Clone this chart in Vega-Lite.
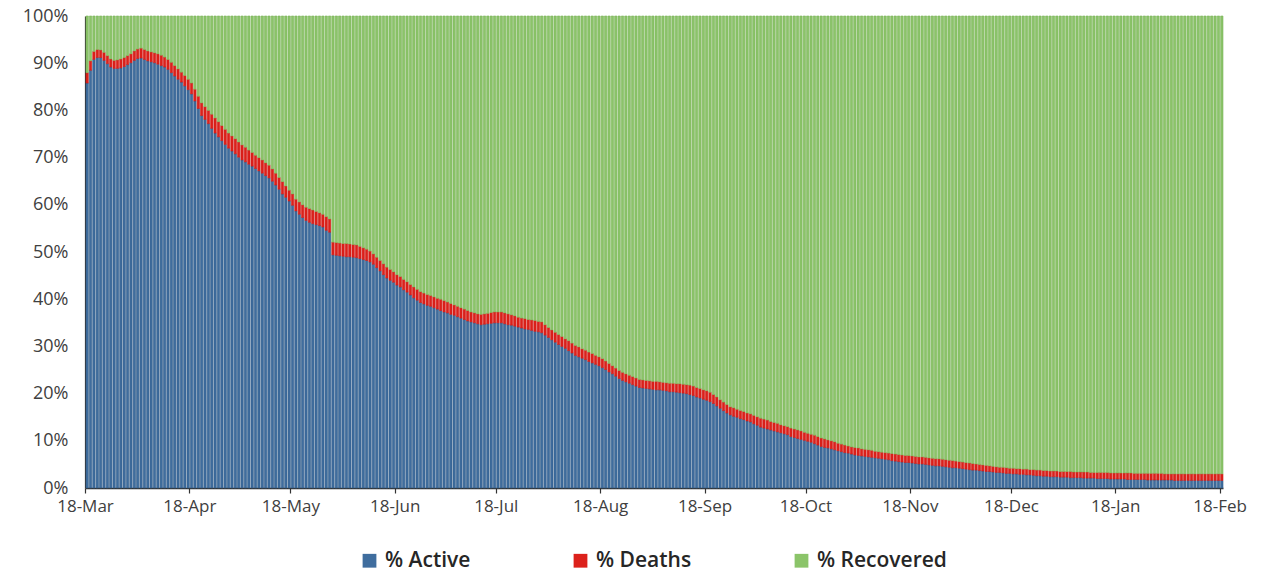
{
"$schema":"https://vega.github.io/schema/vega-lite/v6.json",
"width":1138,"height":472,
"autosize":{"type":"none"},
"padding":{"left":85,"top":16,"right":38,"bottom":85},
"background":"white",
"config":{"view":{"stroke":null}},
"data":{"values":[
{"t":"2020-03-18","a":85.8,"d":2.2,"r":12.0},
{"t":"2020-03-19","a":88.5,"d":2.0,"r":9.5},
{"t":"2020-03-20","a":90.8,"d":1.7,"r":7.5},
{"t":"2020-03-21","a":91.2,"d":1.7,"r":7.1},
{"t":"2020-03-22","a":91.2,"d":1.6,"r":7.2},
{"t":"2020-03-23","a":90.6,"d":1.7,"r":7.7},
{"t":"2020-03-24","a":89.9,"d":1.7,"r":8.4},
{"t":"2020-03-25","a":89.2,"d":1.7,"r":9.1},
{"t":"2020-03-26","a":88.9,"d":1.7,"r":9.4},
{"t":"2020-03-27","a":88.9,"d":1.8,"r":9.3},
{"t":"2020-03-28","a":89.0,"d":1.9,"r":9.1},
{"t":"2020-03-29","a":89.3,"d":1.9,"r":8.8},
{"t":"2020-03-30","a":89.7,"d":1.9,"r":8.4},
{"t":"2020-03-31","a":90.1,"d":1.9,"r":8.0},
{"t":"2020-04-01","a":90.6,"d":2.0,"r":7.4},
{"t":"2020-04-02","a":91.0,"d":2.0,"r":7.0},
{"t":"2020-04-03","a":91.1,"d":2.1,"r":6.8},
{"t":"2020-04-04","a":90.8,"d":2.1,"r":7.1},
{"t":"2020-04-05","a":90.5,"d":2.1,"r":7.4},
{"t":"2020-04-06","a":90.3,"d":2.1,"r":7.6},
{"t":"2020-04-07","a":90.1,"d":2.1,"r":7.8},
{"t":"2020-04-08","a":89.8,"d":2.2,"r":8.0},
{"t":"2020-04-09","a":89.5,"d":2.2,"r":8.3},
{"t":"2020-04-10","a":89.2,"d":2.1,"r":8.7},
{"t":"2020-04-11","a":88.7,"d":2.1,"r":9.2},
{"t":"2020-04-12","a":88.0,"d":2.2,"r":9.8},
{"t":"2020-04-13","a":87.3,"d":2.2,"r":10.5},
{"t":"2020-04-14","a":86.6,"d":2.2,"r":11.2},
{"t":"2020-04-15","a":86.0,"d":2.1,"r":11.9},
{"t":"2020-04-16","a":85.2,"d":2.2,"r":12.6},
{"t":"2020-04-17","a":84.4,"d":2.2,"r":13.4},
{"t":"2020-04-18","a":83.5,"d":2.3,"r":14.2},
{"t":"2020-04-19","a":82.0,"d":2.5,"r":15.5},
{"t":"2020-04-20","a":80.4,"d":2.6,"r":17.0},
{"t":"2020-04-21","a":78.9,"d":2.7,"r":18.4},
{"t":"2020-04-22","a":78.1,"d":2.7,"r":19.2},
{"t":"2020-04-23","a":77.2,"d":2.8,"r":20.0},
{"t":"2020-04-24","a":76.2,"d":3.0,"r":20.8},
{"t":"2020-04-25","a":75.2,"d":3.2,"r":21.6},
{"t":"2020-04-26","a":74.4,"d":3.2,"r":22.4},
{"t":"2020-04-27","a":73.6,"d":3.2,"r":23.2},
{"t":"2020-04-28","a":72.8,"d":3.2,"r":24.0},
{"t":"2020-04-29","a":72.0,"d":3.2,"r":24.8},
{"t":"2020-04-30","a":71.4,"d":3.2,"r":25.4},
{"t":"2020-05-01","a":70.8,"d":3.2,"r":26.0},
{"t":"2020-05-02","a":70.1,"d":3.2,"r":26.7},
{"t":"2020-05-03","a":69.5,"d":3.2,"r":27.3},
{"t":"2020-05-04","a":69.1,"d":3.1,"r":27.8},
{"t":"2020-05-05","a":68.6,"d":3.0,"r":28.4},
{"t":"2020-05-06","a":68.2,"d":2.9,"r":28.9},
{"t":"2020-05-07","a":67.7,"d":2.8,"r":29.5},
{"t":"2020-05-08","a":67.2,"d":2.8,"r":30.0},
{"t":"2020-05-09","a":66.7,"d":2.8,"r":30.5},
{"t":"2020-05-10","a":66.2,"d":2.7,"r":31.1},
{"t":"2020-05-11","a":65.7,"d":2.7,"r":31.6},
{"t":"2020-05-12","a":65.0,"d":2.6,"r":32.4},
{"t":"2020-05-13","a":64.2,"d":2.5,"r":33.3},
{"t":"2020-05-14","a":63.3,"d":2.5,"r":34.2},
{"t":"2020-05-15","a":62.3,"d":2.6,"r":35.1},
{"t":"2020-05-16","a":61.6,"d":2.4,"r":36.0},
{"t":"2020-05-17","a":60.8,"d":2.3,"r":36.9},
{"t":"2020-05-18","a":59.9,"d":2.4,"r":37.7},
{"t":"2020-05-19","a":58.7,"d":2.5,"r":38.8},
{"t":"2020-05-20","a":58.0,"d":2.6,"r":39.4},
{"t":"2020-05-21","a":57.3,"d":2.7,"r":40.0},
{"t":"2020-05-22","a":56.7,"d":2.8,"r":40.5},
{"t":"2020-05-23","a":56.3,"d":2.9,"r":40.8},
{"t":"2020-05-24","a":56.0,"d":2.9,"r":41.1},
{"t":"2020-05-25","a":55.8,"d":2.8,"r":41.4},
{"t":"2020-05-26","a":55.6,"d":2.7,"r":41.7},
{"t":"2020-05-27","a":55.3,"d":2.7,"r":42.0},
{"t":"2020-05-28","a":54.6,"d":2.9,"r":42.5},
{"t":"2020-05-29","a":54.2,"d":2.8,"r":43.0},
{"t":"2020-05-30","a":49.4,"d":2.7,"r":47.9},
{"t":"2020-05-31","a":49.3,"d":2.7,"r":48.0},
{"t":"2020-06-01","a":49.2,"d":2.7,"r":48.1},
{"t":"2020-06-02","a":49.1,"d":2.7,"r":48.2},
{"t":"2020-06-03","a":49.0,"d":2.8,"r":48.2},
{"t":"2020-06-04","a":49.0,"d":2.7,"r":48.3},
{"t":"2020-06-05","a":48.9,"d":2.7,"r":48.4},
{"t":"2020-06-06","a":48.8,"d":2.7,"r":48.5},
{"t":"2020-06-07","a":48.6,"d":2.6,"r":48.8},
{"t":"2020-06-08","a":48.4,"d":2.5,"r":49.1},
{"t":"2020-06-09","a":48.2,"d":2.4,"r":49.4},
{"t":"2020-06-10","a":47.9,"d":2.3,"r":49.8},
{"t":"2020-06-11","a":47.4,"d":2.2,"r":50.4},
{"t":"2020-06-12","a":46.7,"d":2.2,"r":51.1},
{"t":"2020-06-13","a":46.0,"d":2.2,"r":51.8},
{"t":"2020-06-14","a":45.2,"d":2.3,"r":52.5},
{"t":"2020-06-15","a":44.5,"d":2.3,"r":53.2},
{"t":"2020-06-16","a":44.0,"d":2.3,"r":53.7},
{"t":"2020-06-17","a":43.6,"d":2.2,"r":54.2},
{"t":"2020-06-18","a":43.0,"d":2.2,"r":54.8},
{"t":"2020-06-19","a":42.6,"d":2.2,"r":55.2},
{"t":"2020-06-20","a":42.0,"d":2.2,"r":55.8},
{"t":"2020-06-21","a":41.5,"d":2.2,"r":56.3},
{"t":"2020-06-22","a":40.9,"d":2.2,"r":56.9},
{"t":"2020-06-23","a":40.3,"d":2.3,"r":57.4},
{"t":"2020-06-24","a":39.8,"d":2.3,"r":57.9},
{"t":"2020-06-25","a":39.3,"d":2.3,"r":58.4},
{"t":"2020-06-26","a":39.0,"d":2.3,"r":58.7},
{"t":"2020-06-27","a":38.7,"d":2.3,"r":59.0},
{"t":"2020-06-28","a":38.5,"d":2.3,"r":59.2},
{"t":"2020-06-29","a":38.2,"d":2.3,"r":59.5},
{"t":"2020-06-30","a":37.9,"d":2.3,"r":59.8},
{"t":"2020-07-01","a":37.6,"d":2.4,"r":60.0},
{"t":"2020-07-02","a":37.3,"d":2.4,"r":60.3},
{"t":"2020-07-03","a":37.1,"d":2.3,"r":60.6},
{"t":"2020-07-04","a":36.8,"d":2.3,"r":60.9},
{"t":"2020-07-05","a":36.6,"d":2.2,"r":61.2},
{"t":"2020-07-06","a":36.3,"d":2.2,"r":61.5},
{"t":"2020-07-07","a":36.0,"d":2.2,"r":61.8},
{"t":"2020-07-08","a":35.7,"d":2.2,"r":62.1},
{"t":"2020-07-09","a":35.4,"d":2.2,"r":62.4},
{"t":"2020-07-10","a":35.2,"d":2.1,"r":62.7},
{"t":"2020-07-11","a":35.0,"d":2.1,"r":62.9},
{"t":"2020-07-12","a":34.8,"d":2.1,"r":63.1},
{"t":"2020-07-13","a":34.6,"d":2.2,"r":63.2},
{"t":"2020-07-14","a":34.7,"d":2.2,"r":63.1},
{"t":"2020-07-15","a":34.8,"d":2.2,"r":63.0},
{"t":"2020-07-16","a":34.9,"d":2.3,"r":62.8},
{"t":"2020-07-17","a":35.0,"d":2.3,"r":62.7},
{"t":"2020-07-18","a":35.0,"d":2.3,"r":62.7},
{"t":"2020-07-19","a":35.0,"d":2.3,"r":62.7},
{"t":"2020-07-20","a":34.8,"d":2.3,"r":62.9},
{"t":"2020-07-21","a":34.6,"d":2.3,"r":63.1},
{"t":"2020-07-22","a":34.5,"d":2.2,"r":63.3},
{"t":"2020-07-23","a":34.3,"d":2.2,"r":63.5},
{"t":"2020-07-24","a":34.1,"d":2.1,"r":63.8},
{"t":"2020-07-25","a":33.9,"d":2.1,"r":64.0},
{"t":"2020-07-26","a":33.7,"d":2.2,"r":64.1},
{"t":"2020-07-27","a":33.6,"d":2.1,"r":64.3},
{"t":"2020-07-28","a":33.4,"d":2.2,"r":64.4},
{"t":"2020-07-29","a":33.2,"d":2.3,"r":64.5},
{"t":"2020-07-30","a":33.1,"d":2.2,"r":64.7},
{"t":"2020-07-31","a":32.9,"d":2.3,"r":64.8},
{"t":"2020-08-01","a":32.4,"d":2.2,"r":65.4},
{"t":"2020-08-02","a":31.9,"d":2.1,"r":66.0},
{"t":"2020-08-03","a":31.4,"d":2.1,"r":66.5},
{"t":"2020-08-04","a":30.9,"d":2.1,"r":67.0},
{"t":"2020-08-05","a":30.4,"d":2.1,"r":67.5},
{"t":"2020-08-06","a":30.0,"d":2.1,"r":67.9},
{"t":"2020-08-07","a":29.6,"d":2.0,"r":68.4},
{"t":"2020-08-08","a":29.1,"d":2.1,"r":68.8},
{"t":"2020-08-09","a":28.6,"d":2.1,"r":69.3},
{"t":"2020-08-10","a":28.1,"d":2.1,"r":69.8},
{"t":"2020-08-11","a":27.8,"d":2.1,"r":70.1},
{"t":"2020-08-12","a":27.5,"d":2.0,"r":70.5},
{"t":"2020-08-13","a":27.2,"d":2.0,"r":70.8},
{"t":"2020-08-14","a":26.8,"d":2.0,"r":71.2},
{"t":"2020-08-15","a":26.5,"d":2.0,"r":71.5},
{"t":"2020-08-16","a":26.2,"d":1.9,"r":71.9},
{"t":"2020-08-17","a":25.9,"d":1.9,"r":72.2},
{"t":"2020-08-18","a":25.5,"d":1.9,"r":72.6},
{"t":"2020-08-19","a":25.1,"d":1.8,"r":73.1},
{"t":"2020-08-20","a":24.6,"d":1.8,"r":73.6},
{"t":"2020-08-21","a":24.2,"d":1.7,"r":74.1},
{"t":"2020-08-22","a":23.7,"d":1.7,"r":74.6},
{"t":"2020-08-23","a":23.2,"d":1.7,"r":75.1},
{"t":"2020-08-24","a":22.8,"d":1.7,"r":75.5},
{"t":"2020-08-25","a":22.5,"d":1.7,"r":75.8},
{"t":"2020-08-26","a":22.2,"d":1.7,"r":76.1},
{"t":"2020-08-27","a":21.9,"d":1.7,"r":76.4},
{"t":"2020-08-28","a":21.6,"d":1.7,"r":76.7},
{"t":"2020-08-29","a":21.3,"d":1.7,"r":77.0},
{"t":"2020-08-30","a":21.2,"d":1.7,"r":77.1},
{"t":"2020-08-31","a":21.1,"d":1.7,"r":77.2},
{"t":"2020-09-01","a":21.0,"d":1.7,"r":77.3},
{"t":"2020-09-02","a":20.9,"d":1.7,"r":77.4},
{"t":"2020-09-03","a":20.8,"d":1.8,"r":77.4},
{"t":"2020-09-04","a":20.8,"d":1.7,"r":77.5},
{"t":"2020-09-05","a":20.7,"d":1.7,"r":77.6},
{"t":"2020-09-06","a":20.6,"d":1.7,"r":77.7},
{"t":"2020-09-07","a":20.4,"d":1.8,"r":77.8},
{"t":"2020-09-08","a":20.4,"d":1.8,"r":77.8},
{"t":"2020-09-09","a":20.3,"d":1.8,"r":77.9},
{"t":"2020-09-10","a":20.2,"d":1.9,"r":77.9},
{"t":"2020-09-11","a":20.1,"d":1.9,"r":78.0},
{"t":"2020-09-12","a":20.0,"d":1.9,"r":78.1},
{"t":"2020-09-13","a":19.8,"d":2.0,"r":78.2},
{"t":"2020-09-14","a":19.6,"d":2.0,"r":78.4},
{"t":"2020-09-15","a":19.3,"d":2.0,"r":78.7},
{"t":"2020-09-16","a":19.1,"d":2.0,"r":78.9},
{"t":"2020-09-17","a":18.8,"d":2.0,"r":79.2},
{"t":"2020-09-18","a":18.6,"d":2.0,"r":79.4},
{"t":"2020-09-19","a":18.3,"d":2.0,"r":79.7},
{"t":"2020-09-20","a":17.9,"d":1.9,"r":80.2},
{"t":"2020-09-21","a":17.4,"d":1.9,"r":80.7},
{"t":"2020-09-22","a":16.9,"d":1.8,"r":81.3},
{"t":"2020-09-23","a":16.4,"d":1.8,"r":81.8},
{"t":"2020-09-24","a":15.9,"d":1.8,"r":82.3},
{"t":"2020-09-25","a":15.5,"d":1.7,"r":82.8},
{"t":"2020-09-26","a":15.2,"d":1.8,"r":83.0},
{"t":"2020-09-27","a":15.0,"d":1.7,"r":83.3},
{"t":"2020-09-28","a":14.7,"d":1.7,"r":83.6},
{"t":"2020-09-29","a":14.5,"d":1.7,"r":83.8},
{"t":"2020-09-30","a":14.2,"d":1.7,"r":84.1},
{"t":"2020-10-01","a":14.0,"d":1.7,"r":84.3},
{"t":"2020-10-02","a":13.6,"d":1.8,"r":84.6},
{"t":"2020-10-03","a":13.3,"d":1.8,"r":84.9},
{"t":"2020-10-04","a":12.9,"d":1.9,"r":85.2},
{"t":"2020-10-05","a":12.7,"d":1.9,"r":85.4},
{"t":"2020-10-06","a":12.5,"d":1.9,"r":85.6},
{"t":"2020-10-07","a":12.3,"d":1.8,"r":85.9},
{"t":"2020-10-08","a":12.1,"d":1.8,"r":86.1},
{"t":"2020-10-09","a":11.9,"d":1.8,"r":86.3},
{"t":"2020-10-10","a":11.7,"d":1.7,"r":86.6},
{"t":"2020-10-11","a":11.5,"d":1.7,"r":86.8},
{"t":"2020-10-12","a":11.3,"d":1.7,"r":87.0},
{"t":"2020-10-13","a":10.9,"d":1.8,"r":87.3},
{"t":"2020-10-14","a":10.7,"d":1.8,"r":87.5},
{"t":"2020-10-15","a":10.5,"d":1.8,"r":87.7},
{"t":"2020-10-16","a":10.3,"d":1.8,"r":87.9},
{"t":"2020-10-17","a":10.1,"d":1.7,"r":88.2},
{"t":"2020-10-18","a":9.9,"d":1.7,"r":88.4},
{"t":"2020-10-19","a":9.7,"d":1.7,"r":88.6},
{"t":"2020-10-20","a":9.4,"d":1.8,"r":88.8},
{"t":"2020-10-21","a":9.1,"d":1.8,"r":89.1},
{"t":"2020-10-22","a":8.8,"d":1.8,"r":89.4},
{"t":"2020-10-23","a":8.6,"d":1.8,"r":89.6},
{"t":"2020-10-24","a":8.5,"d":1.7,"r":89.8},
{"t":"2020-10-25","a":8.3,"d":1.7,"r":90.0},
{"t":"2020-10-26","a":8.1,"d":1.7,"r":90.2},
{"t":"2020-10-27","a":7.9,"d":1.6,"r":90.5},
{"t":"2020-10-28","a":7.7,"d":1.6,"r":90.7},
{"t":"2020-10-29","a":7.5,"d":1.6,"r":90.9},
{"t":"2020-10-30","a":7.4,"d":1.5,"r":91.1},
{"t":"2020-10-31","a":7.2,"d":1.5,"r":91.3},
{"t":"2020-11-01","a":7.0,"d":1.6,"r":91.4},
{"t":"2020-11-02","a":6.9,"d":1.6,"r":91.5},
{"t":"2020-11-03","a":6.8,"d":1.5,"r":91.7},
{"t":"2020-11-04","a":6.7,"d":1.5,"r":91.8},
{"t":"2020-11-05","a":6.6,"d":1.5,"r":91.9},
{"t":"2020-11-06","a":6.5,"d":1.5,"r":92.0},
{"t":"2020-11-07","a":6.4,"d":1.4,"r":92.2},
{"t":"2020-11-08","a":6.3,"d":1.4,"r":92.3},
{"t":"2020-11-09","a":6.2,"d":1.4,"r":92.4},
{"t":"2020-11-10","a":6.1,"d":1.4,"r":92.5},
{"t":"2020-11-11","a":6.0,"d":1.4,"r":92.6},
{"t":"2020-11-12","a":5.8,"d":1.5,"r":92.7},
{"t":"2020-11-13","a":5.7,"d":1.5,"r":92.8},
{"t":"2020-11-14","a":5.6,"d":1.5,"r":92.9},
{"t":"2020-11-15","a":5.5,"d":1.5,"r":93.0},
{"t":"2020-11-16","a":5.4,"d":1.5,"r":93.1},
{"t":"2020-11-17","a":5.4,"d":1.5,"r":93.1},
{"t":"2020-11-18","a":5.3,"d":1.5,"r":93.2},
{"t":"2020-11-19","a":5.2,"d":1.5,"r":93.3},
{"t":"2020-11-20","a":5.1,"d":1.5,"r":93.4},
{"t":"2020-11-21","a":5.1,"d":1.5,"r":93.4},
{"t":"2020-11-22","a":5.0,"d":1.5,"r":93.5},
{"t":"2020-11-23","a":4.9,"d":1.5,"r":93.6},
{"t":"2020-11-24","a":4.8,"d":1.5,"r":93.7},
{"t":"2020-11-25","a":4.7,"d":1.5,"r":93.8},
{"t":"2020-11-26","a":4.7,"d":1.5,"r":93.8},
{"t":"2020-11-27","a":4.6,"d":1.5,"r":93.9},
{"t":"2020-11-28","a":4.5,"d":1.5,"r":94.0},
{"t":"2020-11-29","a":4.4,"d":1.5,"r":94.1},
{"t":"2020-11-30","a":4.3,"d":1.5,"r":94.2},
{"t":"2020-12-01","a":4.3,"d":1.4,"r":94.3},
{"t":"2020-12-02","a":4.2,"d":1.4,"r":94.4},
{"t":"2020-12-03","a":4.1,"d":1.4,"r":94.5},
{"t":"2020-12-04","a":4.0,"d":1.4,"r":94.6},
{"t":"2020-12-05","a":3.9,"d":1.4,"r":94.7},
{"t":"2020-12-06","a":3.8,"d":1.4,"r":94.8},
{"t":"2020-12-07","a":3.8,"d":1.3,"r":94.9},
{"t":"2020-12-08","a":3.7,"d":1.3,"r":95.0},
{"t":"2020-12-09","a":3.6,"d":1.3,"r":95.1},
{"t":"2020-12-10","a":3.5,"d":1.3,"r":95.2},
{"t":"2020-12-11","a":3.5,"d":1.2,"r":95.3},
{"t":"2020-12-12","a":3.4,"d":1.2,"r":95.4},
{"t":"2020-12-13","a":3.3,"d":1.2,"r":95.5},
{"t":"2020-12-14","a":3.3,"d":1.1,"r":95.6},
{"t":"2020-12-15","a":3.2,"d":1.2,"r":95.6},
{"t":"2020-12-16","a":3.1,"d":1.2,"r":95.7},
{"t":"2020-12-17","a":3.1,"d":1.1,"r":95.8},
{"t":"2020-12-18","a":3.0,"d":1.2,"r":95.8},
{"t":"2020-12-19","a":3.0,"d":1.1,"r":95.9},
{"t":"2020-12-20","a":2.9,"d":1.2,"r":95.9},
{"t":"2020-12-21","a":2.9,"d":1.1,"r":96.0},
{"t":"2020-12-22","a":2.8,"d":1.2,"r":96.0},
{"t":"2020-12-23","a":2.8,"d":1.1,"r":96.1},
{"t":"2020-12-24","a":2.7,"d":1.2,"r":96.1},
{"t":"2020-12-25","a":2.6,"d":1.2,"r":96.2},
{"t":"2020-12-26","a":2.6,"d":1.2,"r":96.2},
{"t":"2020-12-27","a":2.5,"d":1.2,"r":96.3},
{"t":"2020-12-28","a":2.5,"d":1.2,"r":96.3},
{"t":"2020-12-29","a":2.4,"d":1.2,"r":96.4},
{"t":"2020-12-30","a":2.4,"d":1.2,"r":96.4},
{"t":"2020-12-31","a":2.4,"d":1.2,"r":96.4},
{"t":"2021-01-01","a":2.3,"d":1.2,"r":96.5},
{"t":"2021-01-02","a":2.3,"d":1.2,"r":96.5},
{"t":"2021-01-03","a":2.3,"d":1.2,"r":96.5},
{"t":"2021-01-04","a":2.2,"d":1.3,"r":96.5},
{"t":"2021-01-05","a":2.2,"d":1.2,"r":96.6},
{"t":"2021-01-06","a":2.2,"d":1.2,"r":96.6},
{"t":"2021-01-07","a":2.2,"d":1.2,"r":96.6},
{"t":"2021-01-08","a":2.1,"d":1.3,"r":96.6},
{"t":"2021-01-09","a":2.1,"d":1.3,"r":96.6},
{"t":"2021-01-10","a":2.1,"d":1.2,"r":96.7},
{"t":"2021-01-11","a":2.1,"d":1.2,"r":96.7},
{"t":"2021-01-12","a":2.0,"d":1.3,"r":96.7},
{"t":"2021-01-13","a":2.0,"d":1.3,"r":96.7},
{"t":"2021-01-14","a":2.0,"d":1.3,"r":96.7},
{"t":"2021-01-15","a":2.0,"d":1.3,"r":96.7},
{"t":"2021-01-16","a":1.9,"d":1.3,"r":96.8},
{"t":"2021-01-17","a":1.9,"d":1.3,"r":96.8},
{"t":"2021-01-18","a":1.9,"d":1.3,"r":96.8},
{"t":"2021-01-19","a":1.9,"d":1.3,"r":96.8},
{"t":"2021-01-20","a":1.9,"d":1.3,"r":96.8},
{"t":"2021-01-21","a":1.8,"d":1.4,"r":96.8},
{"t":"2021-01-22","a":1.8,"d":1.4,"r":96.8},
{"t":"2021-01-23","a":1.8,"d":1.3,"r":96.9},
{"t":"2021-01-24","a":1.8,"d":1.3,"r":96.9},
{"t":"2021-01-25","a":1.8,"d":1.3,"r":96.9},
{"t":"2021-01-26","a":1.8,"d":1.3,"r":96.9},
{"t":"2021-01-27","a":1.7,"d":1.4,"r":96.9},
{"t":"2021-01-28","a":1.7,"d":1.4,"r":96.9},
{"t":"2021-01-29","a":1.7,"d":1.4,"r":96.9},
{"t":"2021-01-30","a":1.7,"d":1.4,"r":96.9},
{"t":"2021-01-31","a":1.7,"d":1.4,"r":96.9},
{"t":"2021-02-01","a":1.7,"d":1.3,"r":97.0},
{"t":"2021-02-02","a":1.7,"d":1.3,"r":97.0},
{"t":"2021-02-03","a":1.7,"d":1.3,"r":97.0},
{"t":"2021-02-04","a":1.6,"d":1.4,"r":97.0},
{"t":"2021-02-05","a":1.6,"d":1.4,"r":97.0},
{"t":"2021-02-06","a":1.6,"d":1.4,"r":97.0},
{"t":"2021-02-07","a":1.6,"d":1.4,"r":97.0},
{"t":"2021-02-08","a":1.6,"d":1.4,"r":97.0},
{"t":"2021-02-09","a":1.6,"d":1.4,"r":97.0},
{"t":"2021-02-10","a":1.6,"d":1.4,"r":97.0},
{"t":"2021-02-11","a":1.6,"d":1.4,"r":97.0},
{"t":"2021-02-12","a":1.6,"d":1.4,"r":97.0},
{"t":"2021-02-13","a":1.6,"d":1.4,"r":97.0},
{"t":"2021-02-14","a":1.6,"d":1.4,"r":97.0},
{"t":"2021-02-15","a":1.6,"d":1.4,"r":97.0},
{"t":"2021-02-16","a":1.6,"d":1.4,"r":97.0},
{"t":"2021-02-17","a":1.6,"d":1.4,"r":97.0},
{"t":"2021-02-18","a":1.6,"d":1.4,"r":97.0}
]},
"transform":[{"fold":["a","d","r"],"as":["k","v"]}],
"mark":{"type":"bar","strokeWidth":0.6},
"encoding":{
"x":{"field":"t","type":"temporal","timeUnit":"utcyearmonthdate",
"scale":{"domain":[{"year":2020,"month":3,"date":18,"utc":true},{"year":2021,"month":2,"date":19,"utc":true}]},
"axis":{"title":null,"grid":false,
"values":[{"year":2020,"month":3,"date":18,"utc":true},{"year":2020,"month":4,"date":18,"utc":true},{"year":2020,"month":5,"date":18,"utc":true},{"year":2020,"month":6,"date":18,"utc":true},{"year":2020,"month":7,"date":18,"utc":true},{"year":2020,"month":8,"date":18,"utc":true},{"year":2020,"month":9,"date":18,"utc":true},{"year":2020,"month":10,"date":18,"utc":true},{"year":2020,"month":11,"date":18,"utc":true},{"year":2020,"month":12,"date":18,"utc":true},{"year":2021,"month":1,"date":18,"utc":true},{"year":2021,"month":2,"date":18,"utc":true}],
"labelExpr":"utcFormat(datum.value, '%d-%b')",
"labelFont":"Open Sans","labelFontSize":17,"labelColor":"#404040","labelPadding":5,"labelFlush":false,"labelOverlap":false,
"domainColor":"#333333","domainWidth":1.5,"tickColor":"#333333","tickSize":5,"tickWidth":1.2}},
"y":{"field":"v","type":"quantitative","stack":"normalize","scale":{"domain":[0,1],"nice":false},
"axis":{"title":null,"grid":false,"ticks":false,"values":[0,0.1,0.2,0.3,0.4,0.5,0.6,0.7,0.8,0.9,1],"format":".0%",
"labelFont":"Open Sans","labelFontSize":18,"labelColor":"#404040","labelPadding":17,"domainColor":"#333333","domainWidth":1.2}},
"color":{"field":"k","type":"nominal",
"scale":{"domain":["a","d","r"],"range":["#3f6d9e","#dc211b","#8bc469"]},
"legend":{"title":null,"orient":"none","legendX":274,"legendY":534,"direction":"horizontal",
"symbolType":"square","symbolSize":190,"symbolStrokeWidth":0,
"labelExpr":"datum.value == 'a' ? '% Active' : datum.value == 'd' ? '% Deaths' : '% Recovered'",
"labelFont":"Open Sans","labelFontSize":21,"labelFontWeight":600,"labelColor":"#262626","labelOffset":5,"columnPadding":99,"labelLimit":300}},
"stroke":{"field":"k","type":"nominal","legend":null,
"scale":{"domain":["a","d","r"],"range":["#2f5a88","#d01a16","#7db65c"]}},
"order":{"field":"k","type":"nominal","sort":"ascending"}
}
}
